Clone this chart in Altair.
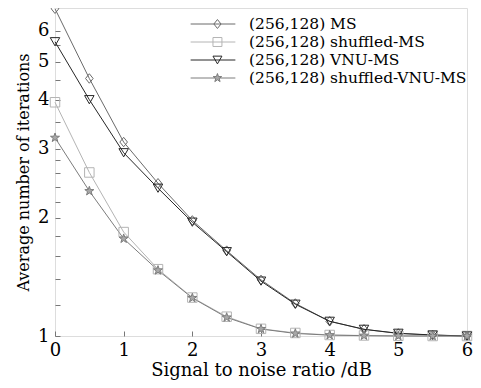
import altair as alt
import pandas as pd

snr = [0, 0.5, 1, 1.5, 2, 2.5, 3, 3.5, 4, 4.5, 5, 5.5, 6]
ms = [6.82, 4.53, 3.12, 2.45, 1.97, 1.65, 1.39, 1.21, 1.09, 1.04, 1.015, 1.005, 1.0]
shuffled_ms = [3.94, 2.61, 1.84, 1.48, 1.253, 1.12, 1.043, 1.018, 1.006, 1.003, 1.001, 1.0, 1.0]
vnu_ms = [5.62, 4.0, 2.93, 2.38, 1.95, 1.64, 1.38, 1.205, 1.09, 1.04, 1.016, 1.006, 1.0]
shuffled_vnu_ms = [3.2, 2.34, 1.77, 1.47, 1.25, 1.115, 1.042, 1.015, 1.005, 1.002, 1.0, 1.0, 1.0]

names = ["(256,128) MS", "(256,128) shuffled-MS", "(256,128) VNU-MS", "(256,128) shuffled-VNU-MS"]
series_vals = [ms, shuffled_ms, vnu_ms, shuffled_vnu_ms]

x_ticks = [0, 1, 2, 3, 4, 5, 6]
y_ticks = [1, 1.2, 1.4, 1.6, 1.8, 2, 2.2, 2.4, 2.6, 2.8, 3, 3.5, 4, 4.5, 5, 5.5, 6]

rows = []
for name, vals in zip(names, series_vals):
    for xv, yv in zip(snr, vals):
        rows.append({"snr": xv, "iters": yv, "series": name, "series2": name})
df = pd.DataFrame(rows)

line_colors = ["#6a6a6a", "#b4b4b4", "#262626", "#7c7c7c"]
fill_colors = ["transparent", "transparent", "transparent", "#a8a8a8"]
star = ("M0,-1L0.235,-0.324L0.951,-0.309L0.380,0.124L0.588,0.809L0,0.4"
        "L-0.588,0.809L-0.380,0.124L-0.951,-0.309L-0.235,-0.324Z")
diamond = "M0,-1L0.8,0L0,1L-0.8,0Z"
shapes = [diamond, "square", "triangle-down", star]

FONT = "DejaVu Serif"

x_enc = alt.X("snr:Q", scale=alt.Scale(domain=[0, 6], nice=False, zero=False),
              axis=alt.Axis(values=x_ticks, format="d", title="Signal to noise ratio /dB",
                            offset=-5, tickSize=5, domain=False, grid=False,
                            labelPadding=5, titlePadding=2, labelFontSize=18,
                            titleFontSize=18, labelFont=FONT, titleFont=FONT,
                            titleFontWeight="normal", labelColor="black", titleColor="black",
                            tickColor="#777777", labelFlush=False))
y_enc = alt.Y("iters:Q", scale=alt.Scale(type="log", domain=[1, 6.85], nice=False),
              axis=alt.Axis(values=y_ticks,
                            labelExpr="datum.value % 1 == 0 ? format(datum.value, 'd') : ''",
                            title="Average number of iterations",
                            offset=-5, tickSize=5, domain=False, grid=False,
                            labelPadding=6, titlePadding=6, labelFontSize=18,
                            titleFontSize=16, labelFont=FONT, titleFont=FONT,
                            titleFontWeight="normal", labelColor="black", titleColor="black",
                            tickColor="#777777", labelFlush=False))

leg_common = dict(orient="none", legendX=135, legendY=7, title=None, padding=0,
                  labelFont=FONT, labelFontSize=15.5, clipHeight=18, rowPadding=0,
                  labelLimit=400)

lines = alt.Chart(df).mark_line(strokeWidth=1).encode(
    x=x_enc, y=y_enc,
    color=alt.Color("series:N", sort=names, scale=alt.Scale(range=line_colors),
                    legend=alt.Legend(symbolType="stroke", symbolSize=2000,
                                      symbolStrokeWidth=1, labelOffset=13,
                                      labelColor="black", **leg_common)),
)

leg_b = alt.Legend(symbolSize=80, symbolStrokeWidth=1, symbolOffset=19.7,
                   labelExpr="''", labelOffset=5, **leg_common)
points = alt.Chart(df).mark_point(filled=False, size=90, opacity=1, strokeWidth=1).encode(
    x=x_enc, y=y_enc,
    stroke=alt.Stroke("series2:N", scale=alt.Scale(domain=names, range=line_colors), legend=leg_b),
    fill=alt.Fill("series2:N", scale=alt.Scale(domain=names, range=fill_colors), legend=leg_b),
    shape=alt.Shape("series2:N", scale=alt.Scale(domain=names, range=shapes), legend=leg_b),
)

chart = alt.layer(lines, points).properties(
    width=412, height=328,
    autosize=alt.AutoSizeParams(type="none"),
    padding={"left": 47, "top": 0, "right": 6, "bottom": 44},
).configure_view(stroke="#777777", strokeWidth=1).configure(background="white")

chart.save("out.html", embed_options={"renderer": "svg", "actions": False})
